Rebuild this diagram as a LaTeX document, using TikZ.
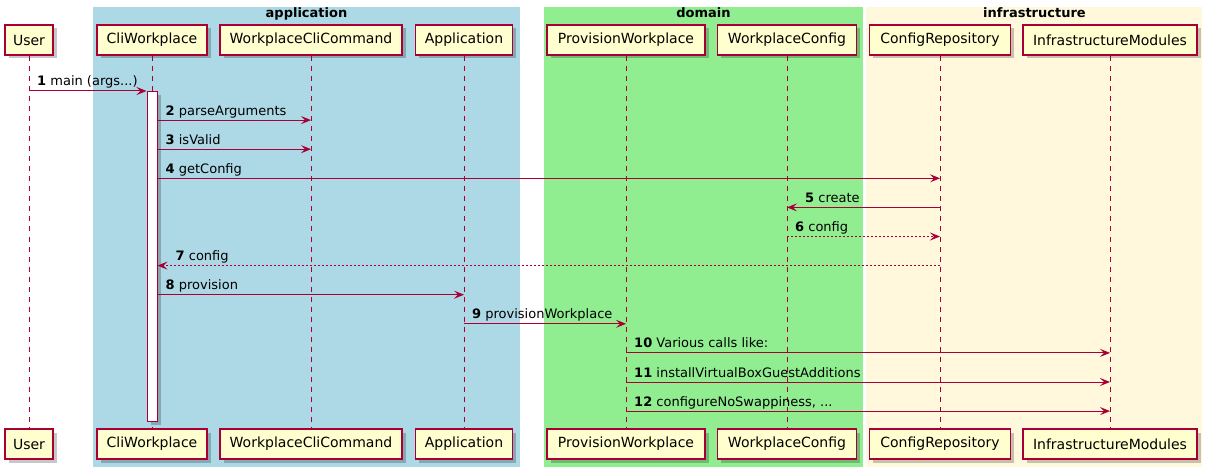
\documentclass[tikz,border=0pt]{standalone}
\usepackage{fontspec}
\setmainfont{DejaVu Sans}
\usetikzlibrary{arrows.meta}
\definecolor{pu}{HTML}{A80036}
\definecolor{pfill}{HTML}{FEFECE}
\definecolor{gapp}{HTML}{ADD8E6}
\definecolor{gdom}{HTML}{90EE90}
\definecolor{ginf}{HTML}{FFF8DC}
\tikzset{
 shadowed/.style={preaction={fill=black,opacity=0.22,transform canvas={shift={(3.5pt,-3.5pt)}}}},
 part/.style={shadowed, draw=pu, fill=pfill, line width=1.5pt, minimum height=30pt, inner sep=0pt, font=\fontsize{14}{16}\selectfont, text=black},
 lifeline/.style={draw=pu, line width=1pt, dash pattern=on 5pt off 5pt},
 msg/.style={draw=pu, line width=1pt, -{Stealth[length=10pt,width=8pt,inset=4pt]}},
 ret/.style={msg, dash pattern=on 2pt off 2pt},
 lbl/.style={anchor=base west, inner sep=0pt, font=\fontsize{13}{15}\selectfont},
 grp/.style={anchor=base, inner sep=0pt, font=\fontsize{13}{15}\selectfont\bfseries},
 actbar/.style={shadowed, draw=pu, fill=white, line width=1pt, inner sep=0pt, minimum width=10pt},
}
\begin{document}
\begin{tikzpicture}[x=1pt,y=-1pt]
\useasboundingbox (0,0) rectangle (1207,473);
\fill[white] (0,0) rectangle (1207,473);
% groups
\fill[gapp] (93,7) rectangle (520,467);
\fill[gdom] (544,7) rectangle (863,467);
\fill[ginf] (866,7) rectangle (1202,467);
\node[grp] (gA) at (306.5,18) {application};
\node[grp] (gD) at (703.5,18) {domain};
\node[grp] (gI) at (1034.5,18) {infrastructure};
% participants (top)
\node[part, minimum width=48pt]  (uT) at (29,40)   {User};
\node[part, minimum width=110pt] (cT) at (152,40)  {CliWorkplace};
\node[part, minimum width=182pt] (wT) at (311,40)  {WorkplaceCliCommand};
\node[part, minimum width=97pt]  (aT) at (464,40)  {Application};
\node[part, minimum width=158pt] (pT) at (626,40)  {ProvisionWorkplace};
\node[part, minimum width=139pt] (fT) at (787,40)  {WorkplaceConfig};
\node[part, minimum width=141pt] (rT) at (940,40)  {ConfigRepository};
\node[part, minimum width=174pt] (iT) at (1110,40) {InfrastructureModules};
% participants (bottom)
\node[part, minimum width=48pt]  (uB) at (29,444)   {User};
\node[part, minimum width=110pt] (cB) at (152,444)  {CliWorkplace};
\node[part, minimum width=182pt] (wB) at (311,444)  {WorkplaceCliCommand};
\node[part, minimum width=97pt]  (aB) at (464,444)  {Application};
\node[part, minimum width=158pt] (pB) at (626,444)  {ProvisionWorkplace};
\node[part, minimum width=139pt] (fB) at (787,444)  {WorkplaceConfig};
\node[part, minimum width=141pt] (rB) at (940,444)  {ConfigRepository};
\node[part, minimum width=174pt] (iB) at (1110,444) {InfrastructureModules};
% lifelines
\foreach \p in {u,c,w,a,p,f,r,i}{
  \draw[lifeline] ([yshift=-0.75pt]\p T.south) -- ([yshift=0.75pt]\p B.north);
}
% activation bar
\node[actbar, minimum height=330pt, anchor=north] (act) at (152,91) {};
% message coordinates
\coordinate (m1a) at (29,91);      \coordinate (m1b) at (act.west |- 0,91);
\coordinate (m2a) at (act.east |- 0,120.1);  \coordinate (m2b) at (wT.south |- 0,120.1);
\coordinate (m3a) at (act.east |- 0,149.2);  \coordinate (m3b) at (wT.south |- 0,149.2);
\coordinate (m4a) at (act.east |- 0,178.3);  \coordinate (m4b) at (rT.south |- 0,178.3);
\coordinate (m5a) at (rT.south |- 0,207.4);  \coordinate (m5b) at (fT.south |- 0,207.4);
\coordinate (m6a) at (fT.south |- 0,236.5);  \coordinate (m6b) at (rT.south |- 0,236.5);
\coordinate (m7a) at (rT.south |- 0,265.6);  \coordinate (m7b) at (act.east |- 0,265.6);
\coordinate (m8a) at (act.east |- 0,294.7);  \coordinate (m8b) at (aT.south |- 0,294.7);
\coordinate (m9a) at (aT.south |- 0,323.8);  \coordinate (m9b) at (pT.south |- 0,323.8);
\coordinate (m10a) at (pT.south |- 0,352.9); \coordinate (m10b) at (iT.south |- 0,352.9);
\coordinate (m11a) at (pT.south |- 0,382);   \coordinate (m11b) at (iT.south |- 0,382);
\coordinate (m12a) at (pT.south |- 0,411.1); \coordinate (m12b) at (iT.south |- 0,411.1);
% messages
\draw[msg] (m1a) -- (m1b);
\node[lbl] (l1) at ([xshift=8pt,yshift=5pt]m1a) {\textbf{1} main (args...)};
\draw[msg] (m2a) -- (m2b);
\node[lbl] (l2) at ([xshift=8pt,yshift=5pt]m2a) {\textbf{2} parseArguments};
\draw[msg] (m3a) -- (m3b);
\node[lbl] (l3) at ([xshift=8pt,yshift=5pt]m3a) {\textbf{3} isValid};
\draw[msg] (m4a) -- (m4b);
\node[lbl] (l4) at ([xshift=8pt,yshift=5pt]m4a) {\textbf{4} getConfig};
\draw[msg] (m5a) -- (m5b);
\node[lbl] (l5) at ([xshift=18pt,yshift=5pt]m5b) {\textbf{5} create};
\draw[ret] (m6a) -- (m6b);
\node[lbl] (l6) at ([xshift=8pt,yshift=5pt]m6a) {\textbf{6} config};
\draw[ret] (m7a) -- (m7b);
\node[lbl] (l7) at ([xshift=18pt,yshift=5pt]m7b) {\textbf{7} config};
\draw[msg] (m8a) -- (m8b);
\node[lbl] (l8) at ([xshift=8pt,yshift=5pt]m8a) {\textbf{8} provision};
\draw[msg] (m9a) -- (m9b);
\node[lbl] (l9) at ([xshift=8pt,yshift=5pt]m9a) {\textbf{9} provisionWorkplace};
\draw[msg] (m10a) -- (m10b);
\node[lbl] (l10) at ([xshift=8pt,yshift=5pt]m10a) {\textbf{10} Various calls like:};
\draw[msg] (m11a) -- (m11b);
\node[lbl] (l11) at ([xshift=8pt,yshift=5pt]m11a) {\textbf{11} installVirtualBoxGuestAdditions};
\draw[msg] (m12a) -- (m12b);
\node[lbl] (l12) at ([xshift=8pt,yshift=5pt]m12a) {\textbf{12} configureNoSwappiness, ...};
\end{tikzpicture}
\end{document}
